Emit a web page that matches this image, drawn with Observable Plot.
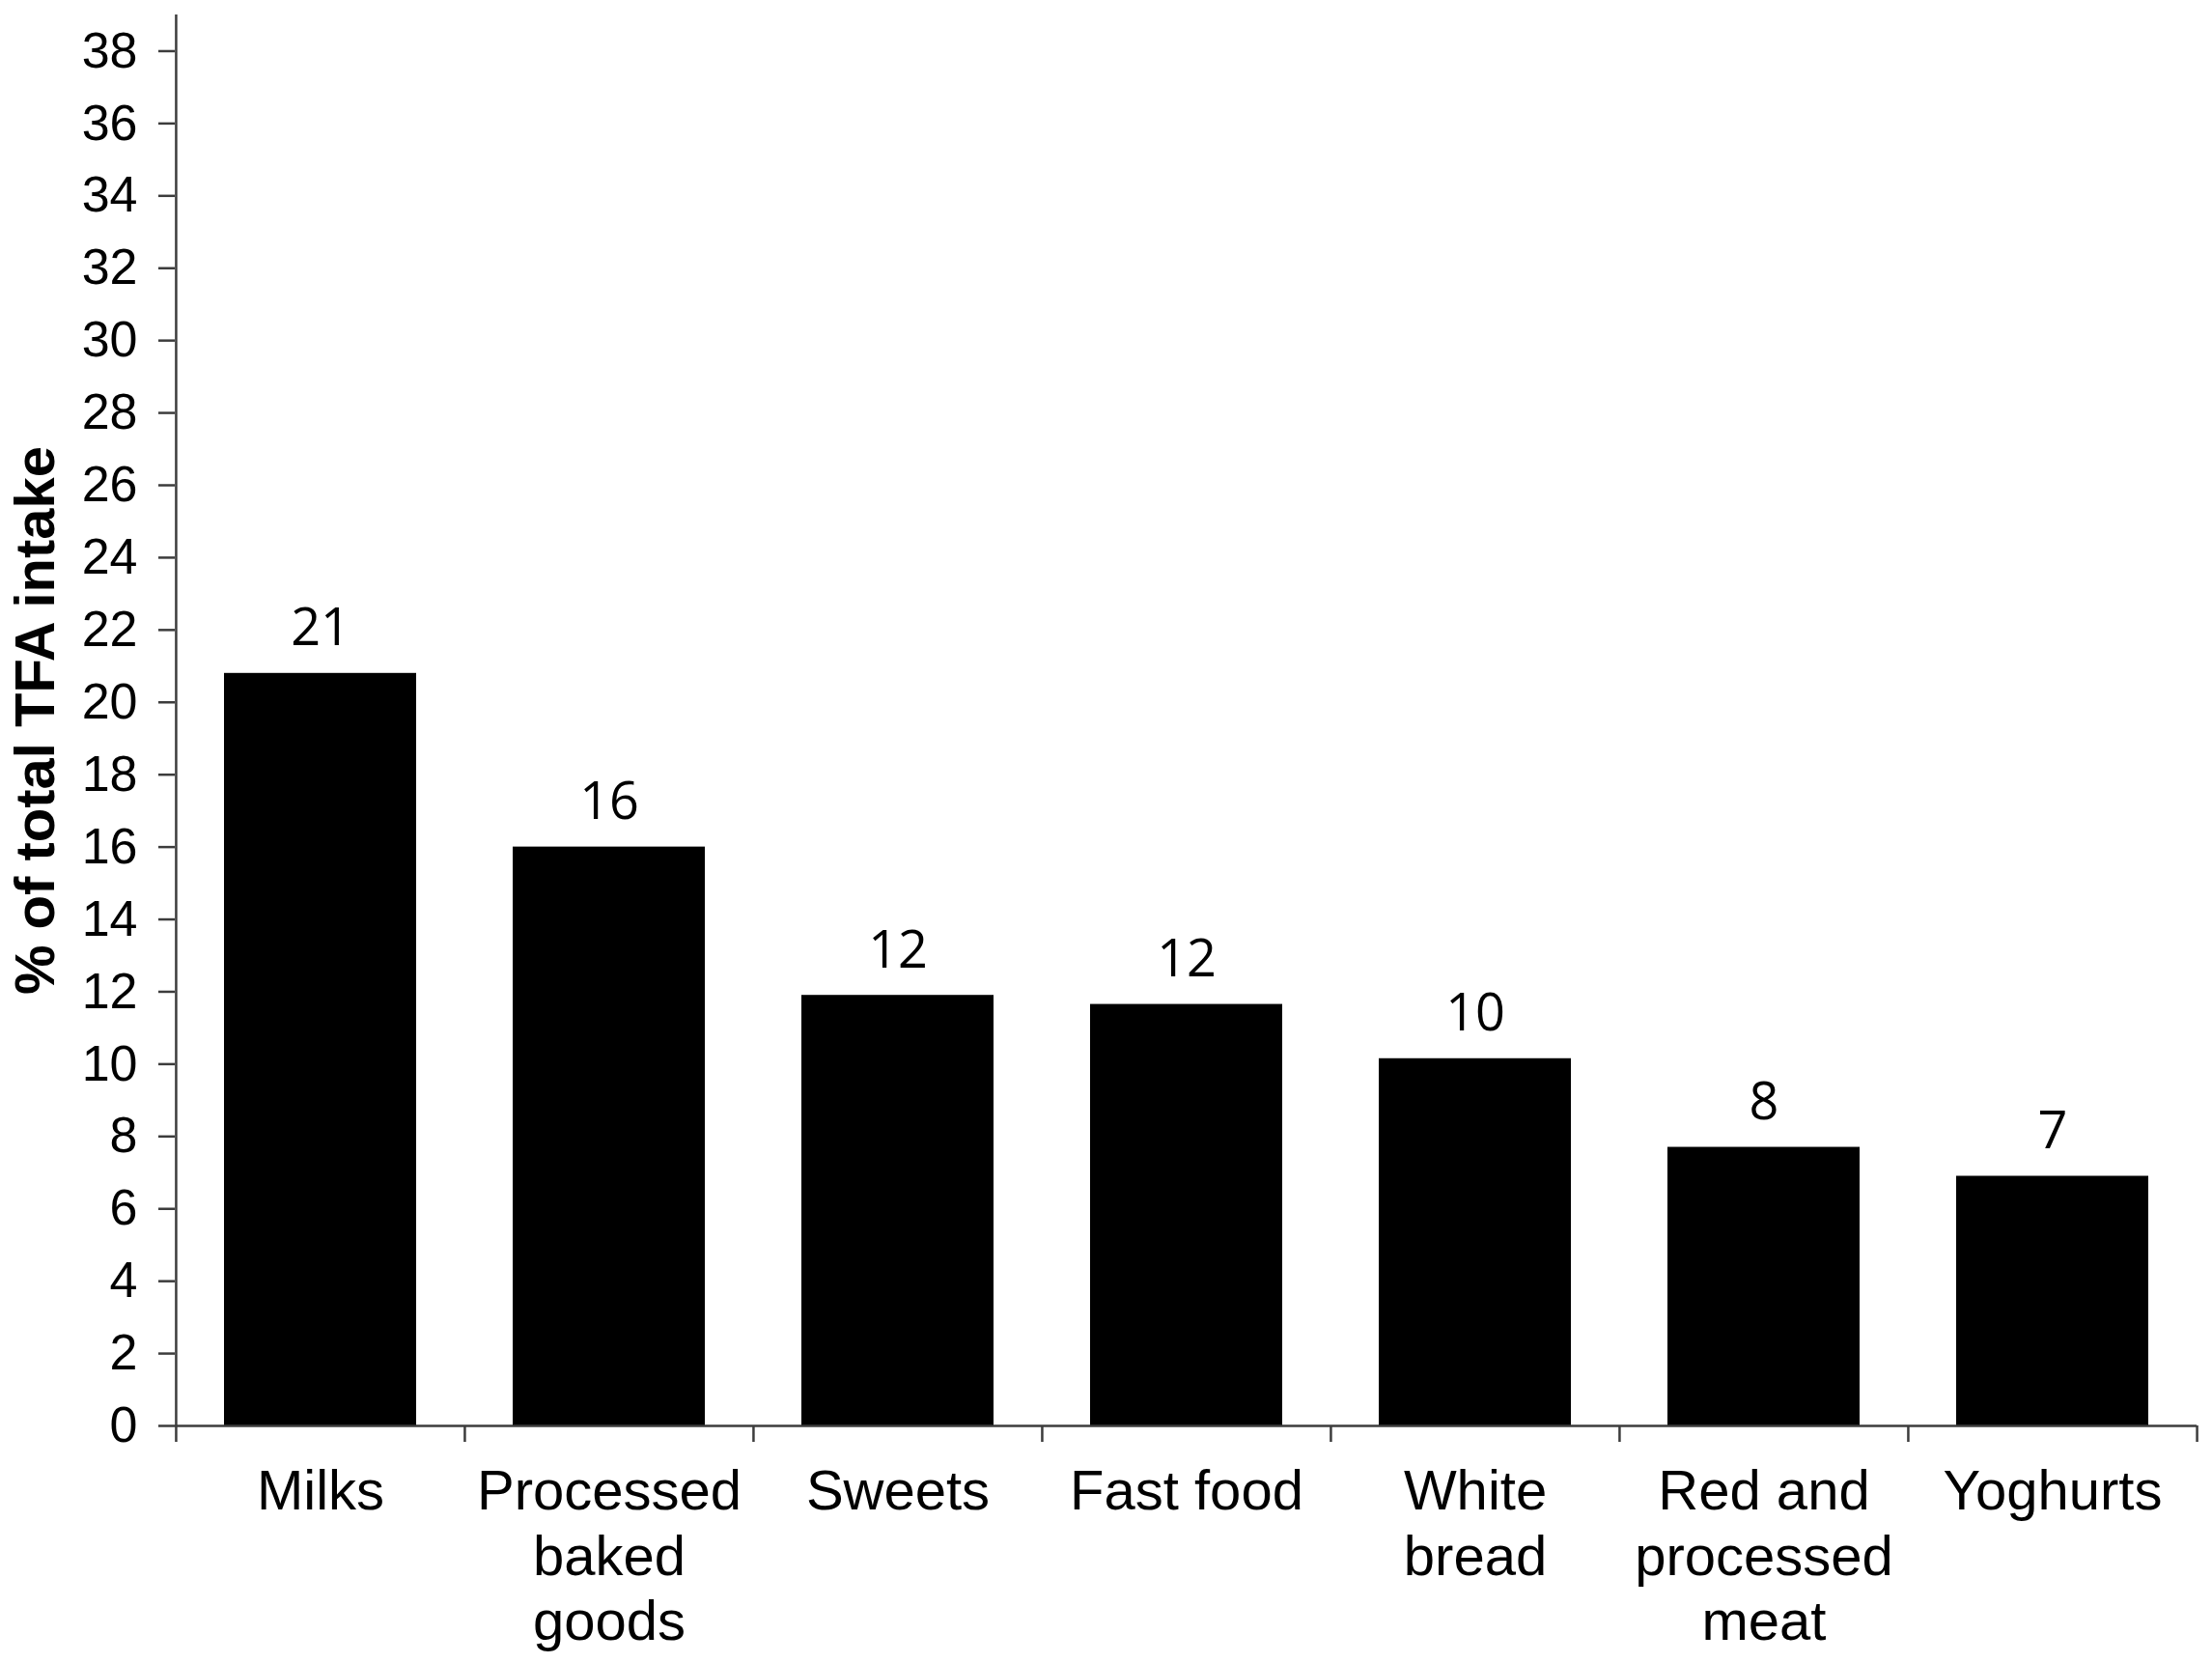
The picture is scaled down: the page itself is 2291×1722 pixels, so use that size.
<!DOCTYPE html>
<html>
<head>
<meta charset="utf-8">
<script src="https://cdn.jsdelivr.net/npm/d3@7"></script>
<script src="https://cdn.jsdelivr.net/npm/@observablehq/plot@0.6"></script>
<style>
  html, body { margin: 0; padding: 0; background: #ffffff; }
  #chart svg { display: block; }
</style>
</head>
<body>
<div id="chart"></div>
<script>
// ---- data ----
const categories = ["Milks", "Processed baked goods", "Sweets", "Fast food", "White bread", "Red and processed meat", "Yoghurts"];
const categoryLines = ["Milks", "Processed\nbaked\ngoods", "Sweets", "Fast food", "White\nbread", "Red and\nprocessed\nmeat", "Yoghurts"];
const values = [20.8, 16.0, 11.9, 11.65, 10.15, 7.7, 6.9];
const valueLabels = ["21", "16", "12", "12", "10", "8", "7"];
const yTicks = [0, 2, 4, 6, 8, 10, 12, 14, 16, 18, 20, 22, 24, 26, 28, 30, 32, 34, 36, 38];
const yTitle = "% of total TFA intake";

const data = categories.map((c, i) => ({cat: c, lines: categoryLines[i], value: values[i], label: valueLabels[i]}));

// ---- layout ----
const W = 2291, H = 1722;
const ML = 181, MR = 16, MT = 15, MB = 246;
const step = (W - ML - MR) / categories.length;
const axisColor = "#3c3c3c";
const sans = "'Liberation Sans', Arial, sans-serif";

const chart = Plot.plot({
  width: W,
  height: H,
  marginLeft: ML,
  marginRight: MR,
  marginTop: MT,
  marginBottom: MB,
  style: {fontFamily: sans, color: "black", background: "white"},
  x: {domain: categories, paddingInner: 0.335, paddingOuter: 0.1675},
  y: {domain: [0, 39]},
  marks: [
    Plot.barY(data, {x: "cat", y: "value", fill: "black"}),
    Plot.ruleY([0], {stroke: axisColor, strokeWidth: 2.5}),
    Plot.ruleX([categories[0]], {x: d => d, dx: -step / 2, stroke: axisColor, strokeWidth: 2.5}),
    Plot.axisX({tickSize: 17, dx: -step / 2, text: null, stroke: axisColor, strokeWidth: 2.5, label: null}),
    Plot.axisX({ticks: [categories[categories.length - 1]], tickSize: 17, dx: step / 2, text: null, stroke: axisColor, strokeWidth: 2.5, label: null}),
    Plot.axisY({ticks: yTicks, tickSize: 17, tickPadding: 22, fontSize: 52, stroke: axisColor, strokeWidth: 2.5, fill: "black", label: null}),
    Plot.text(data, {x: "cat", y: "value", text: "label", lineAnchor: "bottom", dy: -29, fontSize: 54, fontFamily: "'Open Sans', sans-serif", fill: "black"}),
    Plot.text(data, {x: "cat", frameAnchor: "bottom", text: "lines", lineAnchor: "top", dy: 38, fontSize: 58, lineHeight: 1.17, fill: "black"}),
    Plot.text([yTitle], {text: d => d, frameAnchor: "left", dx: -144, rotate: -90, textAnchor: "middle", lineAnchor: "middle", fontSize: 58, fontWeight: "bold", fill: "black"})
  ]
});

document.getElementById("chart").appendChild(chart);
</script>
</body>
</html>
